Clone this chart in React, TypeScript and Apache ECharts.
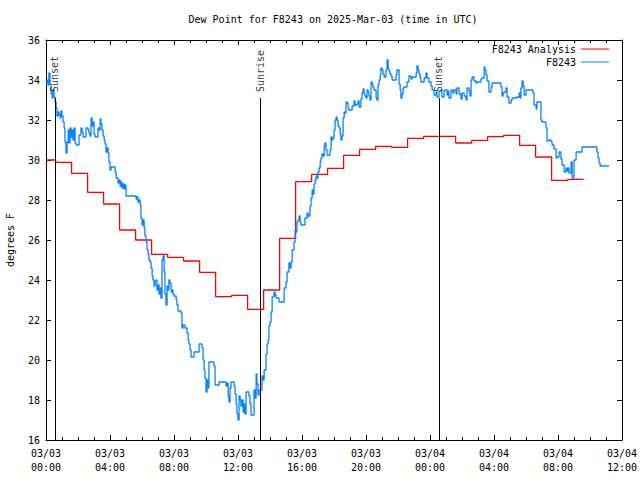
import React, { useEffect, useRef } from 'react';
import * as echarts from 'echarts';

const TITLE = 'Dew Point for F8243 on 2025-Mar-03 (time in UTC)';
const Y_NAME = 'degrees F';
const MONTH = '03';
const START_DAY = 3;
const X_MIN = 0;
const X_MAX = 36;
const X_INTERVAL = 4;
const Y_MIN = 16;
const Y_MAX = 36;
const Y_INTERVAL = 2;

const ANALYSIS_NAME = 'F8243 Analysis';
const OBS_NAME = 'F8243';

// Hourly analysis values (hours since 03/03 00:00 UTC), drawn as steps
const analysisHours = [
  0, 1, 2, 3, 4, 5, 6, 7, 8, 9, 10, 11, 12, 13, 14, 15, 16,
  17, 18, 19, 20, 21, 22, 23, 24, 25, 26, 27, 28, 29, 30, 31, 32, 33,
];
const analysisValues = [
  30.0, 29.88, 29.33, 28.38, 27.8, 26.5, 26.0, 25.28, 25.13, 24.95, 24.38, 23.17, 23.23,
  22.53, 23.5, 26.08, 28.92, 29.28, 29.58, 30.23, 30.53, 30.68, 30.63, 31.08, 31.18,
  31.18, 30.85, 30.98, 31.17, 31.23, 30.73, 30.15, 28.98, 29.03,
];
const STEP_OFFSET = -0.4;

// Observations: [minutes since 03/03 00:00 UTC, dew point F]
const obsF8243: [number, number][] = [
  [0, 33.8], [4, 34.0], [8, 33.75], [11, 34.35], [15, 33.8], [19, 33.3], [23, 33.1], [26, 33.5],
  [30, 33.15], [34, 32.9], [38, 32.6], [41, 32.2], [45, 32.4], [49, 32.25], [53, 32.1], [56, 32.45],
  [60, 32.2], [64, 31.9], [68, 31.6], [71, 30.9], [75, 30.35], [79, 30.9], [83, 31.5], [86, 30.85],
  [90, 31.6], [94, 31.15], [98, 31.5], [101, 31.0], [105, 31.6], [109, 30.85], [113, 30.75],
  [124, 31.25], [131, 31.6], [135, 31.4], [139, 31.15], [150, 31.6], [158, 31.5], [161, 31.35],
  [165, 31.2], [169, 32.1], [173, 31.7], [176, 31.9], [180, 31.3], [184, 31.15], [195, 31.6],
  [199, 31.5], [203, 32.05], [206, 31.8], [210, 31.5], [214, 31.2], [218, 31.0], [221, 30.8],
  [225, 30.4], [229, 30.6], [233, 30.35], [236, 29.9], [240, 29.5], [244, 29.65], [259, 29.4],
  [263, 29.1], [270, 28.85], [274, 29.0], [278, 28.7], [281, 28.9], [285, 28.6], [289, 28.8],
  [293, 28.55], [296, 28.75], [300, 28.2], [338, 28.05], [341, 28.15], [345, 27.9], [349, 28.0],
  [353, 27.75], [356, 27.1], [360, 26.75], [364, 27.0], [368, 26.6], [371, 26.2], [375, 25.9],
  [379, 25.5], [383, 25.3], [386, 25.0], [390, 24.9], [394, 24.6], [398, 24.2], [401, 24.0],
  [405, 23.7], [409, 23.95], [413, 24.0], [416, 23.5], [420, 23.75], [424, 23.3], [428, 23.6],
  [431, 23.1], [435, 25.0], [439, 25.2], [443, 24.4], [446, 23.3], [450, 22.75], [454, 23.7],
  [458, 23.5], [461, 24.0], [465, 23.85], [469, 23.4], [473, 23.5], [476, 23.3], [480, 23.2],
  [488, 23.0], [491, 22.75], [495, 22.45], [506, 22.35], [510, 21.6], [514, 21.75], [521, 21.6],
  [529, 21.35], [533, 21.0], [536, 20.8], [540, 20.5], [544, 20.15], [555, 20.4], [574, 20.8],
  [585, 20.6], [589, 20.0], [593, 19.5], [596, 19.1], [600, 18.4], [604, 19.0], [608, 18.6],
  [611, 19.9], [630, 19.7], [634, 18.75], [649, 18.9], [675, 18.7], [679, 18.85], [683, 18.2],
  [686, 17.9], [690, 18.6], [694, 18.9], [705, 18.7], [709, 18.3], [713, 17.8], [716, 17.3],
  [720, 17.0], [724, 18.2], [728, 18.0], [731, 17.7], [735, 18.0], [739, 17.4], [743, 17.8],
  [746, 17.3], [750, 18.4], [761, 18.2], [765, 17.8], [769, 17.25], [780, 18.5], [784, 18.1],
  [788, 19.3], [791, 18.8], [795, 18.25], [799, 18.5], [810, 19.2], [814, 19.0], [818, 19.5],
  [825, 20.3], [829, 20.8], [833, 21.0], [836, 21.7], [840, 21.9], [844, 22.4], [848, 23.15],
  [855, 23.4], [859, 23.25], [863, 23.1], [874, 22.9], [893, 23.6], [900, 23.9], [904, 24.4],
  [911, 24.85], [915, 24.6], [919, 24.9], [923, 25.5], [930, 25.9], [934, 26.5], [938, 26.4],
  [941, 26.9], [945, 27.0], [949, 27.2], [953, 26.9], [956, 26.75], [971, 27.1], [979, 27.35],
  [983, 27.2], [990, 27.7], [994, 28.1], [998, 28.5], [1001, 28.3], [1005, 28.8], [1009, 29.0],
  [1013, 29.2], [1016, 29.1], [1020, 29.4], [1024, 29.6], [1028, 29.9], [1031, 30.1], [1035, 30.3],
  [1039, 30.2], [1043, 30.7], [1046, 30.85], [1050, 30.5], [1054, 30.25], [1065, 30.5],
  [1069, 31.15], [1073, 31.0], [1076, 31.1], [1080, 31.5], [1084, 32.0], [1088, 32.15],
  [1091, 32.0], [1095, 31.7], [1099, 31.6], [1103, 31.3], [1106, 31.0], [1110, 31.2], [1114, 32.1],
  [1118, 32.4], [1121, 32.35], [1125, 32.9], [1129, 32.85], [1133, 32.6], [1136, 32.5],
  [1148, 32.7], [1155, 32.95], [1159, 32.75], [1166, 32.8], [1170, 32.95], [1174, 32.65],
  [1181, 33.05], [1185, 33.35], [1189, 33.55], [1193, 33.3], [1196, 33.2], [1200, 33.1],
  [1204, 33.5], [1208, 33.4], [1211, 33.2], [1215, 33.0], [1219, 33.9], [1223, 33.8], [1226, 33.65],
  [1230, 33.5], [1238, 33.1], [1241, 33.0], [1245, 33.75], [1249, 34.0], [1253, 34.25],
  [1256, 34.6], [1260, 34.5], [1264, 34.3], [1268, 34.15], [1275, 34.5], [1279, 35.0], [1283, 34.6],
  [1286, 34.45], [1290, 34.3], [1294, 34.2], [1298, 34.0], [1313, 34.25], [1316, 34.5],
  [1324, 33.8], [1328, 33.5], [1331, 33.1], [1335, 33.3], [1339, 33.6], [1343, 33.65],
  [1354, 33.9], [1361, 34.2], [1369, 34.05], [1373, 34.15], [1388, 34.35], [1391, 34.7],
  [1395, 34.5], [1399, 34.3], [1403, 34.1], [1406, 33.9], [1418, 34.1], [1425, 34.35],
  [1429, 34.1], [1436, 33.9], [1444, 33.7], [1448, 33.5], [1455, 33.25], [1463, 33.4],
  [1466, 33.15], [1474, 33.45], [1481, 33.5], [1485, 33.15], [1493, 33.5], [1504, 33.25],
  [1508, 33.45], [1511, 33.1], [1519, 33.5], [1526, 33.35], [1530, 33.5], [1538, 33.3],
  [1541, 33.6], [1549, 33.3], [1556, 33.05], [1560, 33.35], [1568, 33.2], [1575, 33.0],
  [1579, 33.6], [1586, 33.45], [1590, 33.2], [1594, 34.0], [1598, 34.15], [1605, 33.95],
  [1613, 33.85], [1616, 33.9], [1631, 34.05], [1635, 34.1], [1643, 34.65], [1646, 34.5],
  [1650, 34.25], [1654, 33.95], [1661, 33.4], [1669, 33.65], [1673, 33.85], [1706, 33.65],
  [1710, 33.2], [1714, 33.35], [1718, 33.4], [1725, 33.6], [1729, 33.15], [1736, 32.85],
  [1744, 33.0], [1748, 33.1], [1766, 33.15], [1774, 33.35], [1778, 33.1], [1781, 33.6],
  [1785, 33.95], [1789, 33.7], [1793, 33.25], [1800, 33.5], [1826, 33.35], [1830, 32.75],
  [1838, 32.55], [1841, 32.9], [1856, 32.0], [1860, 31.9], [1875, 31.6], [1879, 30.95],
  [1886, 31.0], [1894, 30.9], [1898, 30.75], [1905, 30.55], [1913, 30.1], [1916, 30.15],
  [1924, 30.4], [1931, 30.05], [1935, 29.75], [1943, 29.4], [1950, 29.6], [1954, 29.45],
  [1958, 29.6], [1961, 29.35], [1969, 29.9], [1973, 29.1], [1980, 30.0], [1988, 30.4],
  [2010, 30.65], [2066, 30.4], [2070, 30.1], [2074, 29.85], [2078, 29.7], [2111, 29.7],
];

// Sun events (hours since 03/03 00:00 UTC)
const sunNames = ['Sunset', 'Sunrise', 'Sunset'];
const sunHours = [0.55, 13.4, 24.55];
const SUN_LINE_TOP = 33.1;
const SUN_LABEL_BASE = 33.35;

const FONT = 'DejaVu Sans Mono';
const RED = '#ff0000';
const BLUE = '#0a84ff';

const pad = (n: number) => String(n).padStart(2, '0');

export default function App() {
  const ref = useRef<HTMLDivElement>(null);

  useEffect(() => {
    if (!ref.current) return;
    const chart = echarts.init(ref.current, null, { renderer: 'svg' });

    const analysisData: [number, number][] = analysisHours.map((h, i) => [
      Math.max(X_MIN, h + STEP_OFFSET),
      analysisValues[i],
    ]);
    analysisData.push([
      analysisHours[analysisHours.length - 1] + 1 + STEP_OFFSET,
      analysisValues[analysisValues.length - 1],
    ]);
    const obsData = obsF8243.map(([m, v]) => [m / 60, v]);

    const textStyle = { fontFamily: FONT, fontSize: 10, color: '#000' };

    const legendCommon = {
      orient: 'vertical',
      align: 'right',
      right: 31,
      itemWidth: 28,
      itemHeight: 1,
      icon: 'rect',
      padding: 0,
      textStyle: { ...textStyle, lineHeight: 12 },
    };

    const axisCommonX = {
      type: 'value',
      min: X_MIN,
      max: X_MAX,
      interval: X_INTERVAL,
      axisLine: { show: true, onZero: false, lineStyle: { color: '#000', width: 1 } },
      axisTick: { show: true, inside: true, length: 5, lineStyle: { color: '#000' } },
      minorTick: { show: true, splitNumber: 4, length: 3, lineStyle: { color: '#000' } },
      splitLine: { show: false },
      minorSplitLine: { show: false },
    };
    const axisCommonY = {
      type: 'value',
      min: Y_MIN,
      max: Y_MAX,
      interval: Y_INTERVAL,
      axisLine: { show: true, onZero: false, lineStyle: { color: '#000', width: 1 } },
      axisTick: { show: true, inside: true, length: 5, lineStyle: { color: '#000' } },
      splitLine: { show: false },
    };

    chart.setOption({
      animation: false,
      backgroundColor: '#fff',
      title: {
        text: TITLE,
        left: 333,
        textAlign: 'center',
        top: 13,
        padding: 0,
        textStyle: { ...textStyle, fontWeight: 'normal', lineHeight: 12 },
      },
      legend: [
        { ...legendCommon, top: 43, data: [{ name: ANALYSIS_NAME, itemStyle: { color: RED } }] },
        { ...legendCommon, top: 56, data: [{ name: OBS_NAME, itemStyle: { color: BLUE } }] },
      ],
      grid: {
        left: 46,
        right: 18,
        top: 40,
        bottom: 40,
        containLabel: false,
        outerBoundsMode: 'none',
      },
      xAxis: [
        {
          ...axisCommonX,
          position: 'bottom',
          axisLabel: {
            ...textStyle,
            margin: 6,
            lineHeight: 14,
            showMinLabel: true,
            showMaxLabel: true,
            formatter: (v: number) => {
              const day = START_DAY + Math.floor(v / 24);
              const hr = v % 24;
              return `${MONTH}/${pad(day)}\n${pad(hr)}:00`;
            },
          },
        },
        { ...axisCommonX, position: 'top', axisLabel: { show: false } },
      ],
      yAxis: [
        {
          ...axisCommonY,
          position: 'left',
          name: Y_NAME,
          nameLocation: 'middle',
          nameGap: 31,
          nameTextStyle: { ...textStyle },
          axisLabel: { ...textStyle, margin: 6 },
        },
        { ...axisCommonY, position: 'right', axisLabel: { show: false } },
      ],
      series: [
        {
          name: ANALYSIS_NAME,
          type: 'line',
          step: 'end',
          data: analysisData,
          symbol: 'none',
          lineStyle: { color: RED, width: 1.3 },
          itemStyle: { color: RED },
          z: 3,
          markLine: {
            silent: true,
            symbol: ['none', 'none'],
            label: { show: false },
            lineStyle: { color: '#000', width: 1, type: 'solid' },
            data: sunHours.map((h) => [{ coord: [h, Y_MIN] }, { coord: [h, SUN_LINE_TOP] }]),
          },
        },
        {
          name: OBS_NAME,
          type: 'line',
          step: 'end',
          data: obsData,
          symbol: 'none',
          lineStyle: { color: BLUE, width: 1.3 },
          itemStyle: { color: BLUE },
          z: 4,
        },
        {
          name: 'sun',
          type: 'scatter',
          symbolSize: 0.1,
          silent: true,
          itemStyle: { color: 'transparent' },
          data: sunHours.map((h, i) => ({ value: [h, SUN_LABEL_BASE], name: sunNames[i] })),
          label: {
            show: true,
            position: 'inside',
            rotate: 90,
            align: 'left',
            verticalAlign: 'middle',
            ...textStyle,
            offset: [1, 0],
            formatter: (p: any) => p.name,
          },
          z: 5,
        },
      ],
    });

    return () => chart.dispose();
  }, []);

  return <div ref={ref} style={{ width: 640, height: 480, position: 'absolute', left: 0, top: 0 }} />;
}
